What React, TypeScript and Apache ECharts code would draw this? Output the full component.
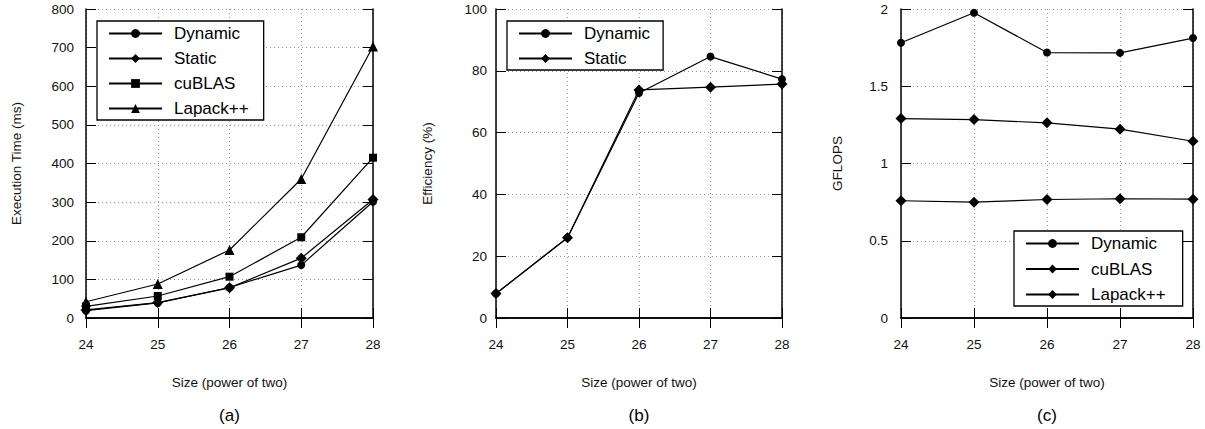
import React, { useEffect, useRef } from "react";
import * as echarts from "echarts";

const sizes = ["24", "25", "26", "27", "28"];

// (a) Execution time (ms)
const timeDynamic = [19, 39, 79, 137, 301];
const timeStatic = [21, 40, 78, 155, 307];
const timeCuBLAS = [30, 57, 107, 209, 415];
const timeLapack = [42, 88, 176, 360, 703];

// (b) Efficiency (%)
const effDynamic = [7.9, 26, 72.8, 84.6, 77.3];
const effStatic = [7.9, 26, 73.8, 74.7, 75.7];

// (c) GFLOPS
const gfDynamic = [1.782, 1.976, 1.718, 1.716, 1.812];
const gfCuBLAS = [1.291, 1.284, 1.263, 1.222, 1.144];
const gfLapack = [0.759, 0.75, 0.767, 0.772, 0.769];

const panelLabels = ["(a)", "(b)", "(c)"];
const yNames = ["Execution Time (ms)", "Efficiency (%)", "GFLOPS"];
const xName = "Size (power of two)";

const FONT = "'Liberation Sans', Arial, Helvetica, sans-serif";

export default function App() {
  const ref = useRef<HTMLDivElement>(null);

  useEffect(() => {
    if (!ref.current) return;
    const chart = echarts.init(ref.current, undefined, { renderer: "svg" });

    const grids = [
      { left: 86, top: 9, width: 287, height: 309 },
      { left: 496, top: 9, width: 286, height: 309 },
      { left: 901, top: 9, width: 292, height: 309 },
    ];
    const yRanges = [
      { min: 0, max: 800, interval: 100 },
      { min: 0, max: 100, interval: 20 },
      { min: 0, max: 2, interval: 0.5 },
    ];
    const yLabelMargins = [12, 9, 13];
    const yNameGaps = [63, 62, 57];

    const frame = { show: true, lineStyle: { color: "#000", width: 1.5 } };
    const tick = { show: true, inside: true, length: 10, lineStyle: { color: "#000", width: 1 } };
    const split = { show: true, lineStyle: { color: "#999", type: [1, 3], width: 1 } };

    const xAxes: any[] = [];
    const yAxes: any[] = [];
    grids.forEach((_, i) => {
      xAxes.push({
        gridIndex: i,
        type: "category",
        data: sizes,
        boundaryGap: false,
        position: "bottom",
        axisLine: frame,
        axisTick: tick,
        splitLine: split,
        axisLabel: { margin: 19, fontSize: 13.5, color: "#111", fontFamily: FONT },
        name: xName,
        nameLocation: "middle",
        nameGap: 57,
        nameTextStyle: { fontSize: 13.5, color: "#111", fontFamily: FONT },
      });
      xAxes.push({
        gridIndex: i,
        type: "category",
        data: sizes,
        boundaryGap: false,
        position: "top",
        axisLine: frame,
        axisTick: tick,
        splitLine: { show: false },
        axisLabel: { show: false },
      });
      yAxes.push({
        gridIndex: i,
        type: "value",
        ...yRanges[i],
        position: "left",
        axisLine: frame,
        axisTick: tick,
        splitLine: split,
        axisLabel: { margin: yLabelMargins[i], fontSize: 13.5, color: "#111", fontFamily: FONT },
        name: yNames[i],
        nameLocation: "middle",
        nameGap: yNameGaps[i],
        nameTextStyle: { fontSize: 13.5, color: "#111", fontFamily: FONT },
      });
      yAxes.push({
        gridIndex: i,
        type: "value",
        ...yRanges[i],
        position: "right",
        axisLine: frame,
        axisTick: tick,
        splitLine: { show: false },
        axisLabel: { show: false },
      });
    });

    const mk = (panel: number, name: string, data: number[], symbol: string, size: number) => ({
      type: "line",
      name: `${panel}|${name}`,
      xAxisIndex: panel * 2,
      yAxisIndex: panel * 2,
      data,
      symbol,
      symbolSize: size,
      showAllSymbol: true,
      lineStyle: { color: "#000", width: 1.2 },
      itemStyle: { color: "#000" },
      z: 3,
    });

    const series = [
      mk(0, "Dynamic", timeDynamic, "circle", 8),
      mk(0, "Static", timeStatic, "diamond", 11),
      mk(0, "cuBLAS", timeCuBLAS, "rect", 8),
      mk(0, "Lapack++", timeLapack, "triangle", 10),
      mk(1, "Dynamic", effDynamic, "circle", 8),
      mk(1, "Static", effStatic, "diamond", 11),
      mk(2, "Dynamic", gfDynamic, "circle", 8),
      mk(2, "cuBLAS", gfCuBLAS, "diamond", 11),
      mk(2, "Lapack++", gfLapack, "diamond", 11),
    ];

    const legendBase = {
      orient: "vertical",
      itemWidth: 53,
      itemHeight: 11,
      itemGap: 8,
      selectedMode: false,
      backgroundColor: "#fff",
      borderColor: "#000",
      borderWidth: 1.3,
      borderRadius: 0,
      formatter: (n: string) => n.split("|")[1],
      textStyle: {
        fontSize: 17,
        lineHeight: 17,
        color: "#000",
        fontFamily: FONT,
        padding: [0, 0, 0, 7],
      },
      z: 10,
    };

    const legends = [
      {
        ...legendBase,
        left: 97,
        top: 21,
        padding: [4, 15, 3, 11],
        data: ["0|Dynamic", "0|Static", "0|cuBLAS", "0|Lapack++"],
      },
      {
        ...legendBase,
        left: 507,
        top: 21,
        padding: [4, 13, 3, 11],
        data: ["1|Dynamic", "1|Static"],
      },
      {
        ...legendBase,
        left: 1014,
        top: 231,
        padding: [4, 17, 3, 11],
        itemGap: 8.5,
        data: ["2|Dynamic", "2|cuBLAS", "2|Lapack++"],
      },
    ];

    const graphic = grids.map((g, i) => ({
      type: "text",
      x: g.left + g.width / 2,
      y: 415,
      style: {
        text: panelLabels[i],
        fontSize: 17,
        fontFamily: FONT,
        fill: "#000",
        textAlign: "center",
        textVerticalAlign: "middle",
      },
    }));

    chart.setOption({
      animation: false,
      backgroundColor: "#fff",
      textStyle: { fontFamily: FONT },
      grid: grids,
      xAxis: xAxes,
      yAxis: yAxes,
      legend: legends,
      series,
      graphic,
    });

    return () => chart.dispose();
  }, []);

  return (
    <div
      ref={ref}
      style={{ position: "fixed", left: 0, top: 0, width: 1205, height: 429, background: "#fff" }}
    />
  );
}
